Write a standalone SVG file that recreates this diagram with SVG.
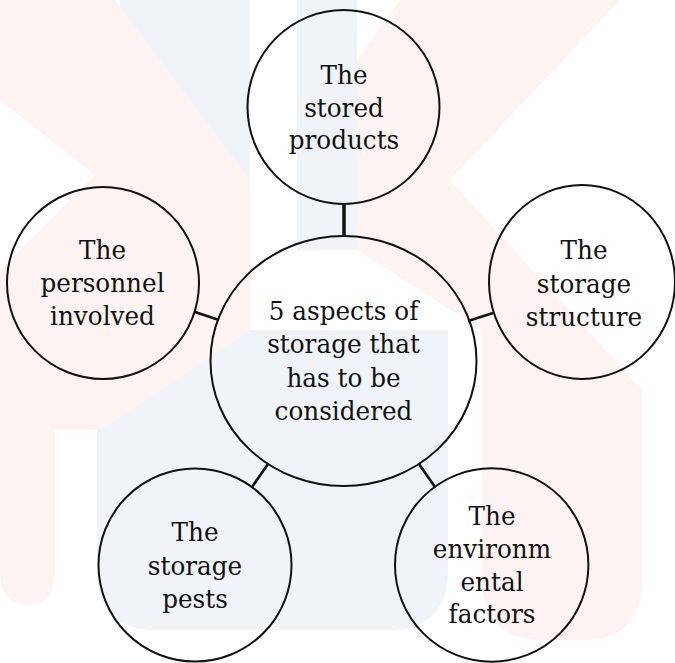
<svg xmlns="http://www.w3.org/2000/svg" width="675" height="663" viewBox="0 0 675 663">
<style>
.node{fill:none;stroke:#111;stroke-width:2}
.lbl{font-family:"DejaVu Serif",serif;font-size:26px;fill:#111;text-anchor:middle}
.conn{stroke:#111;stroke-width:2.6;fill:none}
.wp{fill:#fdf3f3}
.wb{fill:#f0f4f8}
</style>
<rect width="675" height="663" fill="#ffffff"/>
<g id="watermark">
<rect class="wb" x="120" y="0" width="130" height="360"/>
<rect class="wb" x="297" y="0" width="60" height="250"/>
<path class="wb" d="M97,330 H448 V570 Q448,630 388,630 H157 Q97,630 97,570 Z"/>
<path class="wp" d="M0,0 H115 L250,180 V330 L100,430 H55 V570 Q55,605 27,605 Q0,605 0,570 V270 L95,175 L0,100 Z"/>
<path class="wp" d="M400,0 H620 L450,180 L642,390 V580 Q642,640 582,640 H542 Q482,640 482,580 V330 L357,250 V60 Z"/>
</g>
<g id="connectors">
<line class="conn" x1="344" y1="204" x2="344" y2="236" style="stroke-width:3.5"/>
<line class="conn" x1="195" y1="312" x2="219" y2="320"/>
<line class="conn" x1="468" y1="321" x2="493" y2="313"/>
<line class="conn" x1="268" y1="464" x2="252" y2="487"/>
<line class="conn" x1="419" y1="464" x2="435" y2="487"/>
</g>
<g id="center">
<ellipse class="node" cx="343.5" cy="361" rx="133" ry="125"/>
<text class="lbl" transform="translate(343.5,0) scale(0.95,1)"><tspan x="0" y="320">5 aspects of</tspan><tspan x="0" y="353">storage that</tspan><tspan x="0" y="387">has to be</tspan><tspan x="0" y="420">considered</tspan></text>
</g>
<g id="stored-products">
<ellipse class="node" cx="343.5" cy="107" rx="96" ry="97"/>
<text class="lbl" transform="translate(344,0) scale(0.95,1)"><tspan x="0" y="84">The</tspan><tspan x="0" y="117">stored</tspan><tspan x="0" y="149">products</tspan></text>
</g>
<g id="personnel">
<circle class="node" cx="103" cy="283" r="96"/>
<text class="lbl" transform="translate(102.5,0) scale(0.95,1)"><tspan x="0" y="259">The</tspan><tspan x="0" y="292">personnel</tspan><tspan x="0" y="325">involved</tspan></text>
</g>
<g id="storage-structure">
<ellipse class="node" cx="582" cy="282" rx="93" ry="97"/>
<text class="lbl" transform="translate(584,0) scale(0.95,1)"><tspan x="0" y="259">The</tspan><tspan x="0" y="293">storage</tspan><tspan x="0" y="326">structure</tspan></text>
</g>
<g id="storage-pests">
<circle class="node" cx="195" cy="565" r="96.5"/>
<text class="lbl" transform="translate(195,0) scale(0.95,1)"><tspan x="0" y="541">The</tspan><tspan x="0" y="575">storage</tspan><tspan x="0" y="608">pests</tspan></text>
</g>
<g id="environmental-factors">
<circle class="node" cx="491.7" cy="565" r="96.7"/>
<text class="lbl" transform="translate(492,0) scale(0.95,1)"><tspan x="0" y="525">The</tspan><tspan x="0" y="558">environm</tspan><tspan x="0" y="591">ental</tspan><tspan x="0" y="623">factors</tspan></text>
</g>
</svg>
